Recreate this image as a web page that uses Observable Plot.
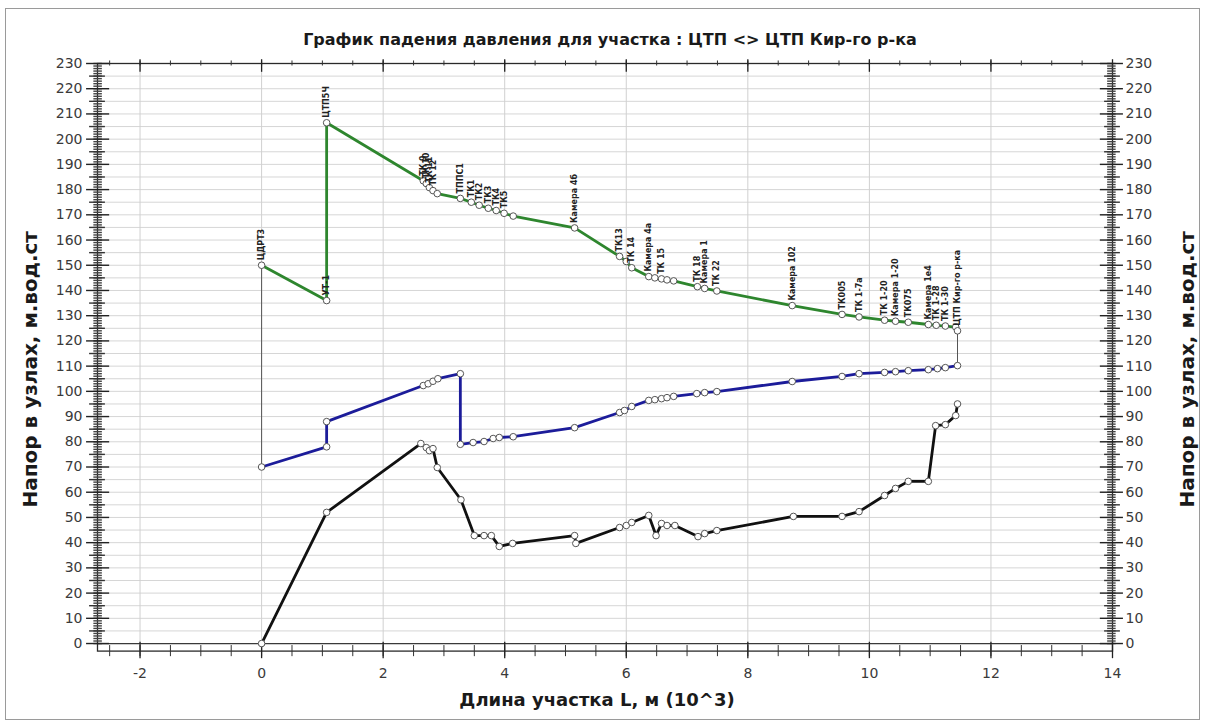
<!DOCTYPE html>
<html>
<head>
<meta charset="utf-8">
<script src="https://cdn.jsdelivr.net/npm/d3@7"></script>
<script src="https://cdn.jsdelivr.net/npm/@observablehq/plot@0.6"></script>
<style>
  body { margin: 0; background: #fff; font-family: "DejaVu Sans", sans-serif; }
  #frame { position: absolute; left: 5px; top: 8px; width: 1195px; height: 712px; border: 1px solid #9a9a9a; box-sizing: border-box; }
  #title { position: absolute; left: 0; top: 30px; width: 1220px; text-align: center; font-weight: bold; font-size: 16px; color: #1a1a1a; }
  #chart { position: absolute; left: 0; top: 52px; }
</style>
</head>
<body>
<div id="frame"></div>
<div id="title">График падения давления для участка : ЦТП &lt;&gt; ЦТП Кир-го р-ка</div>
<div id="chart"></div>
<script>
// Distance along the section, thousands of metres, and head at each node, m w.c.
const supplyL = [0, 1.07, 1.07, 2.66, 2.71, 2.76, 2.82, 2.89, 3.27, 3.45, 3.58, 3.73, 3.86, 3.99, 4.14, 5.15, 5.89, 6.0, 6.09, 6.37, 6.47, 6.58, 6.67, 6.78, 7.17, 7.29, 7.49, 8.73, 9.55, 9.83, 10.25, 10.43, 10.64, 10.97, 11.1, 11.25, 11.42, 11.45];
const supplyH = [150, 136, 206.5, 183.5, 182.4, 180.8, 179.6, 178.4, 176.5, 175, 173.8, 172.6, 171.7, 170.6, 169.5, 164.8, 153.5, 151.5, 149, 145.5, 145, 144.6, 144.2, 143.8, 141.5, 140.8, 139.8, 134, 130.5, 129.5, 128.2, 127.8, 127.4, 126.5, 126.2, 125.9, 125.5, 124];

const returnL = [0, 1.07, 1.07, 2.66, 2.74, 2.82, 2.9, 3.27, 3.27, 3.48, 3.66, 3.81, 3.91, 4.14, 5.15, 5.89, 5.97, 6.09, 6.37, 6.47, 6.58, 6.67, 6.78, 7.16, 7.29, 7.49, 8.73, 9.55, 9.83, 10.25, 10.43, 10.64, 10.97, 11.12, 11.25, 11.45];
const returnH = [70, 78, 88, 102.3, 103, 104, 105, 107, 79, 79.7, 80.1, 81.3, 81.7, 82, 85.6, 91.6, 92.4, 94, 96.4, 96.7, 97.1, 97.5, 98, 99.1, 99.5, 99.9, 103.9, 105.9, 107, 107.5, 107.8, 108.2, 108.6, 109, 109.4, 110.2];

const groundL = [0, 1.07, 2.62, 2.71, 2.76, 2.82, 2.89, 3.28, 3.5, 3.66, 3.78, 3.91, 4.13, 5.15, 5.17, 5.89, 6.0, 6.09, 6.37, 6.49, 6.58, 6.67, 6.8, 7.18, 7.29, 7.49, 8.75, 9.55, 9.83, 10.25, 10.43, 10.64, 10.97, 11.09, 11.25, 11.42, 11.45];
const groundH = [0, 52, 79.3, 77.7, 76.5, 77.3, 69.8, 57, 42.8, 42.8, 42.8, 38.5, 39.7, 42.8, 39.7, 46, 46.8, 48, 50.8, 42.8, 47.6, 46.8, 46.8, 42.4, 43.6, 44.8, 50.4, 50.4, 52.3, 58.7, 61.5, 64.3, 64.3, 86.4, 86.8, 90.4, 95];

// Node names written above the supply line
const nodeL = [0, 1.07, 1.07, 2.66, 2.71, 2.76, 2.82, 3.27, 3.45, 3.58, 3.73, 3.86, 3.99, 5.15, 5.89, 6.09, 6.37, 6.58, 7.17, 7.29, 7.49, 8.73, 9.55, 9.83, 10.25, 10.43, 10.64, 10.97, 11.1, 11.25, 11.45];
const nodeH = [150, 136, 206.5, 183.5, 182.4, 180.8, 179.6, 176.5, 175, 173.8, 172.6, 171.7, 170.6, 164.8, 153.5, 149, 145.5, 144.6, 141.5, 140.8, 139.8, 134, 130.5, 129.5, 128.2, 127.8, 127.4, 126.5, 126.2, 125.9, 124];
const nodeName = ["ЦДРТ3", "УТ-1", "ЦТП5Ч", "ТК 9", "ТК 10", "ТК 11", "ТК 12", "ТППС1", "ТК1", "ТК2", "ТК3", "ТК4", "ТК5", "Камера 4б", "ТК13", "ТК 14", "Камера 4а", "ТК 15", "ТК 18", "Камера 1", "ТК 22", "Камера 102", "ТК005", "ТК 1-7а", "ТК 1-20", "Камера 1-20", "ТК075", "Камера 1е4", "ТК 1-28", "ТК 1-30", "ЦТП Кир-го р-ка"];

// Axis ticks
const xLabels = [-2, 0, 2, 4, 6, 8, 10, 12, 14];
const xGrid = [-2, 0, 2, 4, 6, 8, 10, 12];
const xMinor = d3.range(-2.5, 14.01, 0.5);
const yLabels = d3.range(0, 231, 10);
const yGrid = d3.range(5, 231, 5);
const yMid = d3.range(5, 231, 10);
const yMinor = d3.range(0, 231, 1);

const X0 = -2.7, X1 = 14, Y0 = -3, Y1 = 230;

const pts = (L, H) => L.map((l, i) => ({l, h: H[i]}));
const supply = pts(supplyL, supplyH);
const ret = pts(returnL, returnH);
const ground = pts(groundL, groundH);
const nodes = nodeL.map((l, i) => ({l, h: nodeH[i], name: nodeName[i]}));
const links = [
  [supply[0], ret[0]],
  [supply[supply.length - 1], ret[ret.length - 1]]
];

const yTitle = "Напор в узлах, м.вод.ст";
const title = (anchor, dx, dy, size) => Plot.text([anchor === "bottom" ? "Длина участка L, м (10^3)" : yTitle], {
  text: d => d, frameAnchor: anchor, textAnchor: "middle", dx, dy,
  rotate: anchor === "bottom" ? 0 : -90, fontWeight: "bold", fontSize: size, fill: "#1a1a1a"
});

const chart = Plot.plot({
  width: 1205,
  height: 672,
  marginTop: 11,
  marginBottom: 73.4,
  marginLeft: 97,
  marginRight: 93,
  x: {domain: [X0, X1]},
  y: {domain: [Y0, Y1]},
  style: {fontFamily: "DejaVu Sans, sans-serif", fontSize: "14px", color: "#3a3a3a", background: "transparent"},
  marks: [
    // grid
    Plot.ruleY(yGrid, {stroke: "#d6d6d6", strokeWidth: 1}),
    Plot.ruleX(xGrid, {stroke: "#d0d0d0", strokeWidth: 1}),
    Plot.ruleY([0], {stroke: "#3a3a3a", strokeWidth: 1.2}),
    Plot.frame({stroke: "#2a2a2a", strokeWidth: 1.3}),
    // bottom and top ticks
    Plot.ruleX(xMinor, {y1: -0.8, y2: -5.2, stroke: "#333"}),
    Plot.ruleX(xLabels, {y1: 0.5, y2: -6, stroke: "#222", strokeWidth: 1.3}),
    Plot.ruleX(xMinor, {y1: 229, y2: 231, stroke: "#333"}),
    Plot.ruleX(xLabels, {y1: 226.5, y2: 231.5, stroke: "#222", strokeWidth: 1.3}),
    // left and right ticks
    Plot.ruleY(yMinor, {x1: X0 - 0.06, x2: X0 + 0.08, stroke: "#444", strokeWidth: 1.4}),
    Plot.ruleY(yMid, {x1: X0 - 0.13, x2: X0 + 0.13, stroke: "#333", strokeWidth: 1.4}),
    Plot.ruleY(yLabels, {x1: X0 - 0.18, x2: X0 + 0.2, stroke: "#222", strokeWidth: 1.4}),
    Plot.ruleY(yMinor, {x1: X1 - 0.08, x2: X1 + 0.06, stroke: "#444", strokeWidth: 1.4}),
    Plot.ruleY(yMid, {x1: X1 - 0.13, x2: X1 + 0.13, stroke: "#333", strokeWidth: 1.4}),
    Plot.ruleY(yLabels, {x1: X1 - 0.2, x2: X1 + 0.18, stroke: "#222", strokeWidth: 1.4}),
    // tick labels
    Plot.axisX(xLabels, {anchor: "bottom", tickSize: 0, tickPadding: 17, tickFormat: d => String(d), label: null}),
    Plot.axisY(yLabels, {anchor: "left", tickSize: 0, tickPadding: 15, tickFormat: d => String(d), label: null}),
    Plot.axisY(yLabels, {anchor: "right", tickSize: 0, tickPadding: 13, tickFormat: d => String(d), label: null}),
    // axis titles
    title("left", -67, 12, 20),
    title("right", 75, 12, 20),
    title("bottom", -8, 55, 18),
    // links between supply and return at both ends
    ...links.map(seg => Plot.line(seg, {x: "l", y: "h", stroke: "#555", strokeWidth: 1})),
    // piezometric lines
    Plot.line(supply, {x: "l", y: "h", stroke: "#2e862e", strokeWidth: 2.8}),
    Plot.line(ret, {x: "l", y: "h", stroke: "#1c1c9a", strokeWidth: 2.8}),
    Plot.line(ground, {x: "l", y: "h", stroke: "#111", strokeWidth: 2.8}),
    Plot.dot(supply, {x: "l", y: "h", r: 3.3, fill: "white", stroke: "#555", strokeWidth: 1}),
    Plot.dot(ret, {x: "l", y: "h", r: 3.3, fill: "white", stroke: "#555", strokeWidth: 1}),
    Plot.dot(ground, {x: "l", y: "h", r: 3.3, fill: "white", stroke: "#555", strokeWidth: 1}),
    // node names
    Plot.text(nodes, {x: "l", y: "h", text: "name", rotate: -90, textAnchor: "start", dy: -5, fontSize: 8, fontWeight: "bold", fill: "#222"})
  ]
});
document.getElementById("chart").appendChild(chart);
</script>
</body>
</html>
